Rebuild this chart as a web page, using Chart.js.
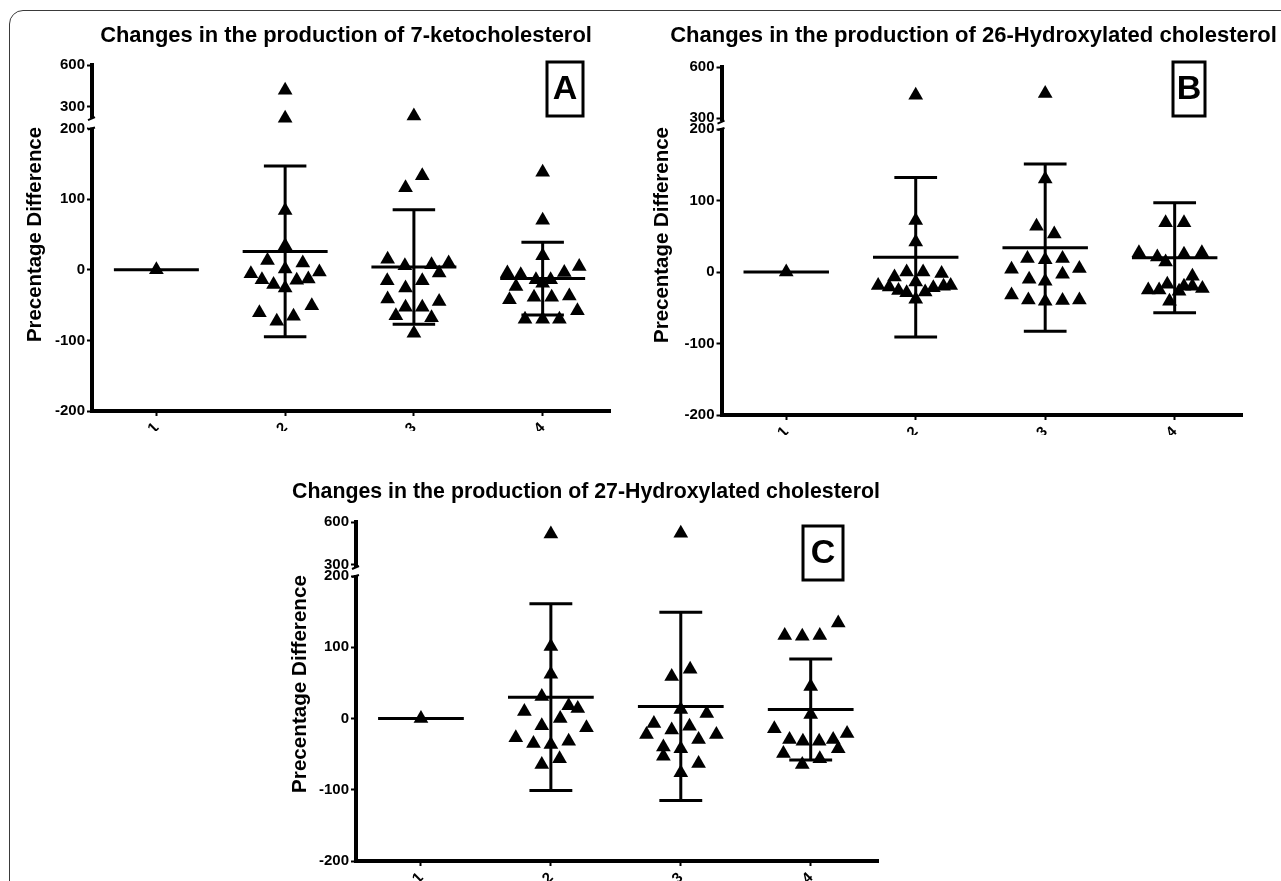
<!DOCTYPE html>
<html><head><meta charset="utf-8">
<script src="https://cdn.jsdelivr.net/npm/chart.js@4.4.1/dist/chart.umd.min.js"></script>
<style>
html,body{margin:0;padding:0;background:#fff;}
#wrap{position:relative;width:1281px;height:881px;overflow:hidden;background:#fff;}
#frame{position:absolute;left:9px;top:10px;width:1330px;height:930px;border:1.5px solid #3a3a3a;border-radius:14px;box-sizing:border-box;}
canvas{position:absolute;left:0;top:0;}
</style></head><body>
<div id="wrap"><div id="frame"></div>
<canvas id="cA" width="1281" height="881"></canvas>
<canvas id="cB" width="1281" height="881"></canvas>
<canvas id="cC" width="1281" height="881"></canvas>
</div>
<script>
// ---------------- DATA ----------------
const categories = ['1', '2', '3', '4'];
const yTicksLower = [-200, -100, 0, 100, 200];
const yTicksUpper = [300, 600];
const titles = [
  'Changes in the production of 7-ketocholesterol',
  'Changes in the production of 26-Hydroxylated cholesterol',
  'Changes in the production of 27-Hydroxylated cholesterol'
];
const panelLetters = ['A', 'B', 'C'];
const yAxisTitle = 'Precentage Difference';

// Panel A : 7-ketocholesterol
const a1Values = [0];
const a1Offsets = [0];
const a2Values = [420, 220, 84, 34, 13, 9.5, 1, -5.7, -3.3, -14, -13, -15, -21, -26, -61, -51, -73, -66];
const a2Offsets = [0, 0, 0, 0, -0.137, 0.137, 0, -0.266, 0.266, -0.18, 0.18, 0.09, -0.09, 0, -0.2, 0.207, -0.065, 0.065];
const a3Values = [235, 133, 116, 15, 5.7, 7, 9.5, -4.7, -15.6, -15.6, -26, -41.5, -45, -53, -53, -65, -68, -90];
const a3Offsets = [0, 0.065, -0.065, -0.204, -0.07, 0.137, 0.27, 0.196, -0.207, 0.065, -0.065, -0.204, 0.196, -0.065, 0.065, -0.14, 0.137, 0];
const a4Values = [138, 70, 20, -4.7, -7, 4.7, -3.8, -14, -14, -23.6, -19, -39, -39, -37, -42.5, -58, -70, -70, -70];
const a4Offsets = [0, 0, 0, -0.274, -0.17, 0.284, 0.168, -0.052, 0.062, -0.207, 0, -0.067, 0.07, 0.207, -0.258, 0.27, -0.137, 0, 0.13];
const aMeans = [0, 26, 4, -12.5];
const aSDs = [0, 121, 81, 51.5];

// Panel B : 26-Hydroxylated cholesterol
const b1Values = [0];
const b1Offsets = [0];
const b2Values = [435, 72, 42, -7, 0, 0, -2, -19, -21, -26, -29, -14, -28, -22, -20, -19, -38];
const b2Offsets = [0, 0, 0, -0.164, -0.07, 0.057, 0.2, -0.29, -0.205, -0.133, -0.07, 0, 0.073, 0.136, 0.215, 0.27, 0];
const b3Values = [445, 130, 64, 53, 19, 17, 19, 4, 5, -10, -13, -3, -32, -39, -41, -40, -39];
const b3Offsets = [0, 0, -0.067, 0.07, -0.137, 0, 0.134, -0.26, 0.264, -0.124, 0, 0.134, -0.26, -0.13, 0, 0.134, 0.264];
const b4Values = [69, 69, 27, 21, 14, 25, 27, -6, -25, -25, -17, -20, -20, -23, -27, -41];
const b4Offsets = [-0.07, 0.072, -0.276, -0.134, -0.07, 0.072, 0.21, 0.137, -0.204, -0.12, -0.057, 0.072, 0.137, 0.214, 0.034, -0.04];
const bMeans = [0, 20.5, 34, 20];
const bSDs = [0, 111.5, 117, 77];

// Panel C : 27-Hydroxylated cholesterol
const c1Values = [0];
const c1Offsets = [0];
const c2Values = [516, 101, 62, 31, 10, 18, 14, 0, -10, -13, -27, -35, -36.5, -32, -64.6, -56.6];
const c2Offsets = [0, 0, 0, -0.07, -0.204, 0.137, 0.207, 0.072, -0.07, 0.274, -0.27, -0.134, 0, 0.137, -0.07, 0.067];
const c3Values = [521, 59, 69, 12.6, 7, -7, -22.5, -16, -11, -29.5, -22.5, -40, -53, -42.5, -63, -76];
const c3Offsets = [0, -0.07, 0.072, 0, 0.2, -0.207, -0.264, -0.07, 0.067, 0.137, 0.274, -0.134, -0.134, 0, 0.137, 0];
const c4Values = [116.5, 115.5, 116.5, 134, 45, 5.6, -14.5, -29.5, -32, -32, -29.5, -21, -49, -42.5, -64.6, -56.6];
const c4Offsets = [-0.2, -0.065, 0.07, 0.212, 0, 0, -0.28, -0.163, -0.06, 0.065, 0.173, 0.28, -0.21, 0.212, -0.065, 0.07];
const cMeans = [0, 30, 17, 12.6];
const cSDs = [0, 131, 132, 71];

const breakLimit = 200; // values above go on the upper (broken) segment

// ---------------- LAYOUT (styles only) ----------------
const FONT = '"Liberation Sans", Arial, sans-serif';
const layouts = [
  { id: 'cA', pad: {left: 32, right: 671, top: 65, bottom: 450}, xMax: 4.523,
    upMin: 146.4, upW: 63.5, loW: 282.5, breakVal: 221,
    title: {x0: 100, x1: 592, y: 36}, box: {x: 547, y: 62, w: 36, h: 54},
    yTitle: {x: 35, y: 234.5, len: 215} },
  { id: 'cB', pad: {left: 661.5, right: 39, top: 67, bottom: 446}, xMax: 4.52,
    upMin: 237.4, upW: 62, loW: 286, breakVal: 281,
    title: {x0: 670, x1: 1277, y: 36}, box: {x: 1173, y: 62, w: 32, h: 54},
    yTitle: {x: 662, y: 235, len: 216} },
  { id: 'cC', pad: {left: 296, right: 403, top: 522, bottom: 0}, xMax: 4.518,
    upMin: 223.2, upW: 54, loW: 285, breakVal: 286,
    title: {x0: 292, x1: 880, y: 492}, box: {x: 803, y: 526, w: 40, h: 54},
    yTitle: {x: 300.6, y: 684, len: 218} }
];
const MEAN_HALF = 0.33, CAP_HALF = 0.165;

Chart.defaults.font.family = FONT;
Chart.defaults.color = '#000';

function splitPoints(groups, offsets) {
  const lower = [], upper = [];
  groups.forEach((vals, gi) => {
    vals.forEach((v, i) => {
      const p = {x: gi + 1 + offsets[gi][i], y: v};
      (v > breakLimit ? upper : lower).push(p);
    });
  });
  return {lower, upper};
}
function meanLines(means) {
  const pts = [];
  means.forEach((m, gi) => {
    const g = gi + 1;
    pts.push({x: g - MEAN_HALF, y: m}, {x: g + MEAN_HALF, y: m}, {x: g, y: null});
  });
  return pts;
}
function sdBars(means, sds) {
  const pts = [];
  means.forEach((m, gi) => {
    const g = gi + 1, s = sds[gi];
    if (!s) return;
    pts.push({x: g, y: m - s}, {x: g, y: m + s}, {x: g, y: null});
    pts.push({x: g - CAP_HALF, y: m + s}, {x: g + CAP_HALF, y: m + s}, {x: g, y: null});
    pts.push({x: g - CAP_HALF, y: m - s}, {x: g + CAP_HALF, y: m - s}, {x: g, y: null});
  });
  return pts;
}

function fitFont(ctx, text, weight, baseSize, target) {
  ctx.font = weight + ' ' + baseSize + 'px ' + FONT;
  const w = ctx.measureText(text).width;
  return baseSize * target / w;
}

const decorPlugin = {
  id: 'decor',
  afterDraw(chart, args, opts) {
    const L = opts.layout, ctx = chart.ctx;
    const yU = chart.scales.yU, yL = chart.scales.yL;
    ctx.save();
    // axis break
    const ax = chart.chartArea.left;
    const yb = yU.getPixelForValue(L.breakVal);
    ctx.fillStyle = '#fff';
    ctx.fillRect(ax - 4, yb, 9, yL.top - yb - 1);
    ctx.strokeStyle = '#000';
    ctx.lineWidth = 2;
    ctx.beginPath();
    ctx.moveTo(ax - 4, yb + 2); ctx.lineTo(ax + 3, yb - 1);
    ctx.moveTo(ax - 4, yL.top + 1); ctx.lineTo(ax + 3, yL.top - 1);
    ctx.stroke();
    // title
    ctx.fillStyle = '#000';
    const t = opts.title;
    const fs = fitFont(ctx, t, 'bold', 22, L.title.x1 - L.title.x0);
    ctx.font = 'bold ' + fs.toFixed(2) + 'px ' + FONT;
    ctx.textAlign = 'center'; ctx.textBaseline = 'middle';
    ctx.fillText(t, (L.title.x0 + L.title.x1) / 2, L.title.y);
    // y axis title
    const yfs = fitFont(ctx, yAxisTitle, 'bold', 20, L.yTitle.len);
    ctx.save();
    ctx.translate(L.yTitle.x, L.yTitle.y);
    ctx.rotate(-Math.PI / 2);
    ctx.font = 'bold ' + yfs.toFixed(2) + 'px ' + FONT;
    ctx.fillText(yAxisTitle, 0, 0);
    ctx.restore();
    // letter box
    const b = L.box;
    ctx.lineWidth = 3;
    ctx.strokeRect(b.x, b.y, b.w, b.h);
    ctx.font = 'bold 34px ' + FONT;
    ctx.fillText(opts.letter, b.x + b.w / 2, b.y + b.h / 2 + 1);
    ctx.restore();
  }
};

const panels = [
  {groups: [a1Values, a2Values, a3Values, a4Values], offsets: [a1Offsets, a2Offsets, a3Offsets, a4Offsets], means: aMeans, sds: aSDs},
  {groups: [b1Values, b2Values, b3Values, b4Values], offsets: [b1Offsets, b2Offsets, b3Offsets, b4Offsets], means: bMeans, sds: bSDs},
  {groups: [c1Values, c2Values, c3Values, c4Values], offsets: [c1Offsets, c2Offsets, c3Offsets, c4Offsets], means: cMeans, sds: cSDs}
];

const tickFont = {size: 15, weight: 'bold', family: FONT};

panels.forEach((P, pi) => {
  const L = layouts[pi];
  const pts = splitPoints(P.groups, P.offsets);
  const markerStyle = {pointStyle: 'triangle', pointRadius: 8.5, pointHoverRadius: 8.5,
    backgroundColor: '#000', borderColor: '#000', borderWidth: 0, showLine: false};
  const lineStyle = {showLine: true, pointRadius: 0, borderColor: '#000', borderWidth: 3, spanGaps: false, fill: false};
  new Chart(document.getElementById(L.id), {
    type: 'scatter',
    data: {
      datasets: [
        Object.assign({label: 'points', data: pts.lower, yAxisID: 'yL', order: 2}, markerStyle),
        Object.assign({label: 'points high', data: pts.upper, yAxisID: 'yU', order: 2}, markerStyle),
        Object.assign({label: 'mean', data: meanLines(P.means), yAxisID: 'yL', order: 1}, lineStyle),
        Object.assign({label: 'SD', data: sdBars(P.means, P.sds), yAxisID: 'yL', order: 1}, lineStyle)
      ]
    },
    options: {
      responsive: false, animation: false, devicePixelRatio: 1,
      layout: {padding: L.pad},
      plugins: {legend: {display: false}, tooltip: {enabled: false}, title: {display: false},
        decor: {layout: L, title: titles[pi], letter: panelLetters[pi]}},
      elements: {line: {tension: 0}},
      scales: {
        x: {
          type: 'linear', position: 'bottom', min: 0.5, max: L.xMax,
          afterBuildTicks: s => { s.ticks = categories.map((c, i) => ({value: i + 1})); },
          afterFit: s => { s.height = 20; },
          ticks: {callback: v => categories[v - 1] || '', font: {size: 15, weight: 'bold'}, minRotation: 45, maxRotation: 45, padding: 3, autoSkip: false},
          grid: {display: true, drawOnChartArea: false, drawTicks: true, tickLength: 5, tickWidth: 2, color: '#000'},
          border: {display: true, width: 4, color: '#000'}
        },
        yL: {
          type: 'linear', position: 'left', stack: 'yy', stackWeight: L.loW, min: -200, max: 200, offset: false,
          afterBuildTicks: s => { s.ticks = yTicksLower.map(v => ({value: v})); },
          afterFit: s => { s.width = 60; },
          ticks: {font: tickFont, padding: 2},
          grid: {display: true, drawOnChartArea: false, drawTicks: true, tickLength: 5, tickWidth: 2, color: '#000'},
          border: {display: true, width: 4, color: '#000'}
        },
        yU: {
          type: 'linear', position: 'left', stack: 'yy', stackWeight: L.upW, min: L.upMin, max: 600, offset: false,
          afterBuildTicks: s => { s.ticks = yTicksUpper.map(v => ({value: v})); },
          afterFit: s => { s.width = 60; },
          ticks: {font: tickFont, padding: 2},
          grid: {display: true, drawOnChartArea: false, drawTicks: true, tickLength: 5, tickWidth: 2, color: '#000'},
          border: {display: true, width: 4, color: '#000'}
        }
      }
    },
    plugins: [decorPlugin]
  });
});
</script>
</body></html>
